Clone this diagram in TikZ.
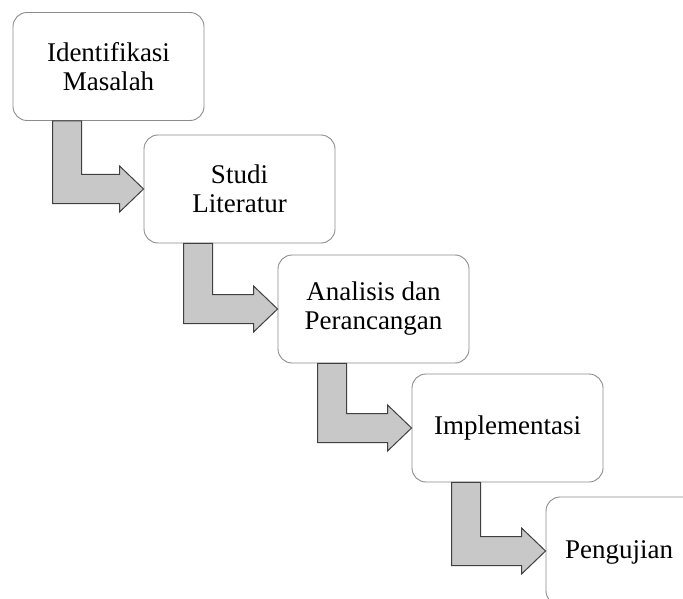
\documentclass[tikz,border=0pt]{standalone}
\usepackage{fontspec}
\setmainfont{Liberation Serif}
\usetikzlibrary{calc}
\definecolor{boxline}{HTML}{8C8C8C}
\definecolor{arrfill}{HTML}{C8C8C8}
\definecolor{arrline}{HTML}{404040}
\tikzset{
  stage/.style={draw=boxline, line width=0.9pt, rounded corners=14pt, fill=white,
    minimum width=191pt, minimum height=108pt, inner sep=0pt, align=center,
    font=\fontsize{27}{29}\selectfont},
  bentarrow/.style={fill=arrfill, draw=arrline, line width=1pt, line join=miter}
}
\newcommand{\bentarr}[2]{%
  \coordinate (p1) at ($(#1.south west)+(40,0)$);
  \coordinate (p2) at ($(#1.south west)+(69,0)$);
  \coordinate (tip) at (#2.west);
  \draw[bentarrow] (p1) -- (p2) -- ($(p2 |- tip)+(0,-14.5)$) -- ($(tip)+(-24,-14.5)$)
    -- ($(tip)+(-24,-23)$) -- (tip) -- ($(tip)+(-24,23)$) -- ($(tip)+(-24,14.5)$)
    -- ($(p1 |- tip)+(0,14.5)$) -- cycle;
}
\begin{document}
\begin{tikzpicture}[x=1pt,y=-1pt]
\useasboundingbox (0,0) rectangle (683,599);
\clip (0,0) rectangle (683,599);
\node[stage] (s1) at (108.5,66.5) {Identifikasi\\Masalah};
\node[stage] (s2) at (239.5,189) {Studi\\Literatur};
\node[stage] (s3) at (373.5,309) {Analisis dan\\Perancangan};
\node[stage] (s4) at (507.5,428) {Implementasi};
\node[stage] (s5) at (641.5,551) {};
\node[font=\fontsize{27}{29}\selectfont] (t5) at (619,552) {Pengujian};
\bentarr{s1}{s2}
\bentarr{s2}{s3}
\bentarr{s3}{s4}
\bentarr{s4}{s5}
\end{tikzpicture}
\end{document}
